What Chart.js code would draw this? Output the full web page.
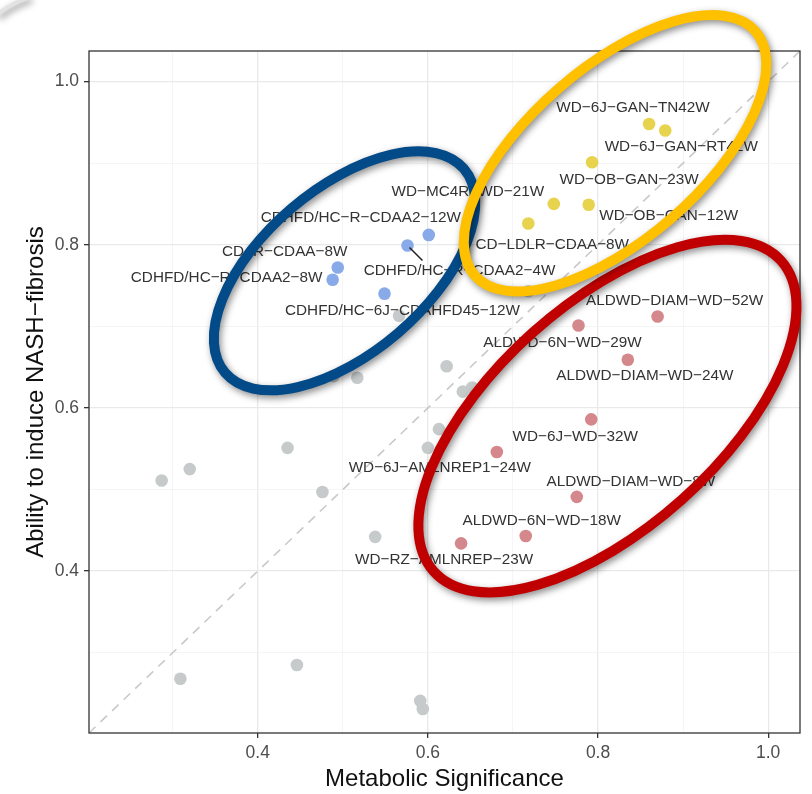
<!DOCTYPE html>
<html>
<head>
<meta charset="utf-8">
<script src="https://cdn.jsdelivr.net/npm/chart.js@4.4.0/dist/chart.umd.min.js"></script>
<style>
  html, body { margin: 0; padding: 0; background: #fff; }
  #wrap { width: 812px; height: 794px; }
</style>
</head>
<body>
<div id="wrap"><canvas id="chart" width="812" height="794"></canvas></div>
<script>
// Axis setup
const axisMin = 0.2016;
const axisMax = 1.0374;
const xTickLabels = [0.4, 0.6, 0.8, 1.0];
const yTickLabels = [0.4, 0.6, 0.8, 1.0];
const gridValues = [0.3, 0.4, 0.5, 0.6, 0.7, 0.8, 0.9, 1.0];

// Unlabelled models (grey)
const otherX = [0.622, 0.641, 0.652, 0.613, 0.600, 0.718, 0.566, 0.489, 0.517, 0.435,
                0.320, 0.287, 0.476, 0.538, 0.446, 0.309, 0.591, 0.594];
const otherY = [0.651, 0.620, 0.625, 0.574, 0.551, 0.743, 0.713, 0.639, 0.637, 0.551,
                0.525, 0.511, 0.497, 0.442, 0.285, 0.268, 0.241, 0.231];

// CDAA type models (blue)
const blueNames = ["CDHFD/HC-R-CDAA2-12W", "CDHFD/HC-R-CDAA2-4W", "CD-R-CDAA-8W",
                   "CDHFD/HC-R-CDAA2-8W", "CDHFD/HC-6J-CDAHFD45-12W"];
const blueX = [0.601, 0.576, 0.494, 0.488, 0.549];
const blueY = [0.812, 0.799, 0.772, 0.757, 0.740];

// GAN type models (yellow)
const yellowNames = ["WD-6J-GAN-TN42W", "WD-6J-GAN-RT42W", "WD-OB-GAN-23W",
                     "WD-MC4R-WD-21W", "WD-OB-GAN-12W", "CD-LDLR-CDAA-8W"];
const yellowX = [0.860, 0.879, 0.793, 0.748, 0.789, 0.718];
const yellowY = [0.948, 0.940, 0.901, 0.850, 0.849, 0.826];

// Western diet / alcohol models (red)
const redNames = ["ALDWD-DIAM-WD-52W", "ALDWD-6N-WD-29W", "ALDWD-DIAM-WD-24W",
                  "WD-6J-WD-32W", "WD-6J-AMLNREP1-24W", "ALDWD-DIAM-WD-8W",
                  "ALDWD-6N-WD-18W", "WD-RZ-AMLNREP-23W"];
const redX = [0.870, 0.777, 0.835, 0.792, 0.681, 0.775, 0.715, 0.639];
const redY = [0.712, 0.701, 0.659, 0.586, 0.546, 0.491, 0.443, 0.434];

// label placement, pixel shift from each point (repelled labels)
const blueLabelShift = [[-68, -17], [52, 25], [-53, -16], [-106, -2], [18, 17]];
const yellowLabelShift = [[-16, -16], [16, 16], [37, 17], [-86, -12], [80, 11], [24, 21]];
const redLabelShift = [[17, -16], [-16, 17], [17, 16], [-16, 17], [-57, 16], [54, -15], [16, -15], [-17, 16]];
// leader segments (label index -> end shift from point)
const blueLeaders = { 1: [15, 15] };

// highlight rings: centre in data units, radii in px
const rings = [
  { x: 0.502, y: 0.768, a: 157, b: 82, angle: 40.5, color: "#024a88" },
  { x: 0.811, y: 0.590, a: 233, b: 112, angle: 41.8, color: "#c00000" },
  { x: 0.820, y: 0.912, a: 186, b: 86, angle: 41, color: "#ffc000" }
];

const minus = (s) => s.replace(/-/g, "\u2212");
const toPoints = (xs, ys) => xs.map((x, i) => ({ x, y: ys[i] }));
const isMajor = (v) => xTickLabels.some((t) => Math.abs(t - v) < 1e-6);

const groups = [
  { names: blueNames, x: blueX, y: blueY, shift: blueLabelShift, leaders: blueLeaders },
  { names: yellowNames, x: yellowX, y: yellowY, shift: yellowLabelShift, leaders: {} },
  { names: redNames, x: redX, y: redY, shift: redLabelShift, leaders: {} }
];

const overlay = {
  id: "overlay",
  beforeDatasetsDraw(chart) {
    // y = x reference line
    const { ctx, chartArea, scales } = chart;
    ctx.save();
    ctx.beginPath();
    ctx.rect(chartArea.left, chartArea.top, chartArea.right - chartArea.left, chartArea.bottom - chartArea.top);
    ctx.clip();
    ctx.strokeStyle = "#c9c9c9";
    ctx.lineWidth = 1.6;
    ctx.setLineDash([9, 7]);
    ctx.beginPath();
    ctx.moveTo(scales.x.getPixelForValue(axisMin), scales.y.getPixelForValue(axisMin));
    ctx.lineTo(scales.x.getPixelForValue(axisMax), scales.y.getPixelForValue(axisMax));
    ctx.stroke();
    ctx.restore();
  },
  afterDatasetsDraw(chart) {
    const { ctx, chartArea, scales } = chart;
    ctx.save();
    ctx.font = '15.3px "Liberation Sans", Arial, sans-serif';
    ctx.fillStyle = "#333";
    ctx.textAlign = "center";
    ctx.textBaseline = "middle";
    groups.forEach((g) => {
      g.names.forEach((name, i) => {
        const px = scales.x.getPixelForValue(g.x[i]);
        const py = scales.y.getPixelForValue(g.y[i]);
        const [dx, dy] = g.shift[i];
        ctx.fillText(minus(name), px + dx, py + dy);
        const lead = g.leaders[i];
        if (lead) {
          ctx.strokeStyle = "#222";
          ctx.lineWidth = 1.5;
          ctx.beginPath();
          ctx.moveTo(px + 2, py + 2);
          ctx.lineTo(px + lead[0], py + lead[1]);
          ctx.stroke();
        }
      });
    });
    // panel border
    ctx.strokeStyle = "#333";
    ctx.lineWidth = 1.3;
    ctx.strokeRect(chartArea.left, chartArea.top, chartArea.right - chartArea.left, chartArea.bottom - chartArea.top);
    ctx.restore();
  },
  afterDraw(chart) {
    const { ctx, scales } = chart;
    ctx.save();
    ctx.shadowColor = "rgba(0,0,0,0.45)";
    ctx.shadowBlur = 7;
    ctx.shadowOffsetX = 2;
    ctx.shadowOffsetY = 3;
    // corner of a neighbouring ring
    ctx.strokeStyle = "#e2e2e2";
    ctx.lineWidth = 4;
    ctx.beginPath();
    ctx.moveTo(-3, 15);
    ctx.quadraticCurveTo(10, 4, 30, -3);
    ctx.stroke();
    rings.forEach((r) => {
      ctx.strokeStyle = r.color;
      ctx.lineWidth = 10;
      ctx.beginPath();
      ctx.ellipse(scales.x.getPixelForValue(r.x), scales.y.getPixelForValue(r.y),
                  r.a, r.b, -r.angle * Math.PI / 180, 0, Math.PI * 2);
      ctx.stroke();
    });
    ctx.restore();
  }
};

function axisOptions(labels, title, isX) {
  return {
    type: "linear",
    min: axisMin,
    max: axisMax,
    afterBuildTicks: (scale) => { scale.ticks = gridValues.map((v) => ({ value: v })); },
    afterFit: (scale) => {
      if (isX) scale.height = 61; else scale.width = 89;
    },
    ticks: {
      autoSkip: false,
      padding: 5,
      color: "#4d4d4d",
      font: { family: '"Liberation Sans", Arial, sans-serif', size: 17.5 },
      callback: (v) => labels.some((t) => Math.abs(t - v) < 1e-6) ? v.toFixed(1) : ""
    },
    grid: {
      color: (c) => isMajor(c.tick.value) ? "#e9e9e9" : "#f3f3f3",
      lineWidth: (c) => isMajor(c.tick.value) ? 1.3 : 0.8,
      tickColor: (c) => isMajor(c.tick.value) ? "#333" : "rgba(0,0,0,0)",
      tickLength: 5,
      tickWidth: 1.3
    },
    border: { display: false },
    title: {
      display: true,
      text: minus(title),
      color: "#111",
      font: { family: '"Liberation Sans", Arial, sans-serif', size: 24, lineHeight: 1.2 },
      padding: isX ? { top: 0, bottom: 0 } : { top: 22, bottom: 0 }
    }
  };
}

const pointStyle = (color) => ({
  backgroundColor: color,
  borderWidth: 0,
  pointRadius: 6.3,
  pointHoverRadius: 6.3
});

new Chart(document.getElementById("chart"), {
  type: "scatter",
  data: {
    datasets: [
      { label: "other", data: toPoints(otherX, otherY), ...pointStyle("#c6cacb") },
      { label: "CDAA", data: toPoints(blueX, blueY), ...pointStyle("#89aae8") },
      { label: "GAN", data: toPoints(yellowX, yellowY), ...pointStyle("#e8d34f") },
      { label: "WD", data: toPoints(redX, redY), ...pointStyle("#d4888b") }
    ]
  },
  options: {
    responsive: false,
    animation: false,
    layout: { padding: { top: 51, right: 12, left: 0, bottom: 0 } },
    plugins: {
      legend: { display: false },
      tooltip: { enabled: false }
    },
    scales: {
      x: axisOptions(xTickLabels, "Metabolic Significance", true),
      y: axisOptions(yTickLabels, "Ability to induce NASH-fibrosis", false)
    }
  },
  plugins: [overlay]
});
</script>
</body>
</html>
